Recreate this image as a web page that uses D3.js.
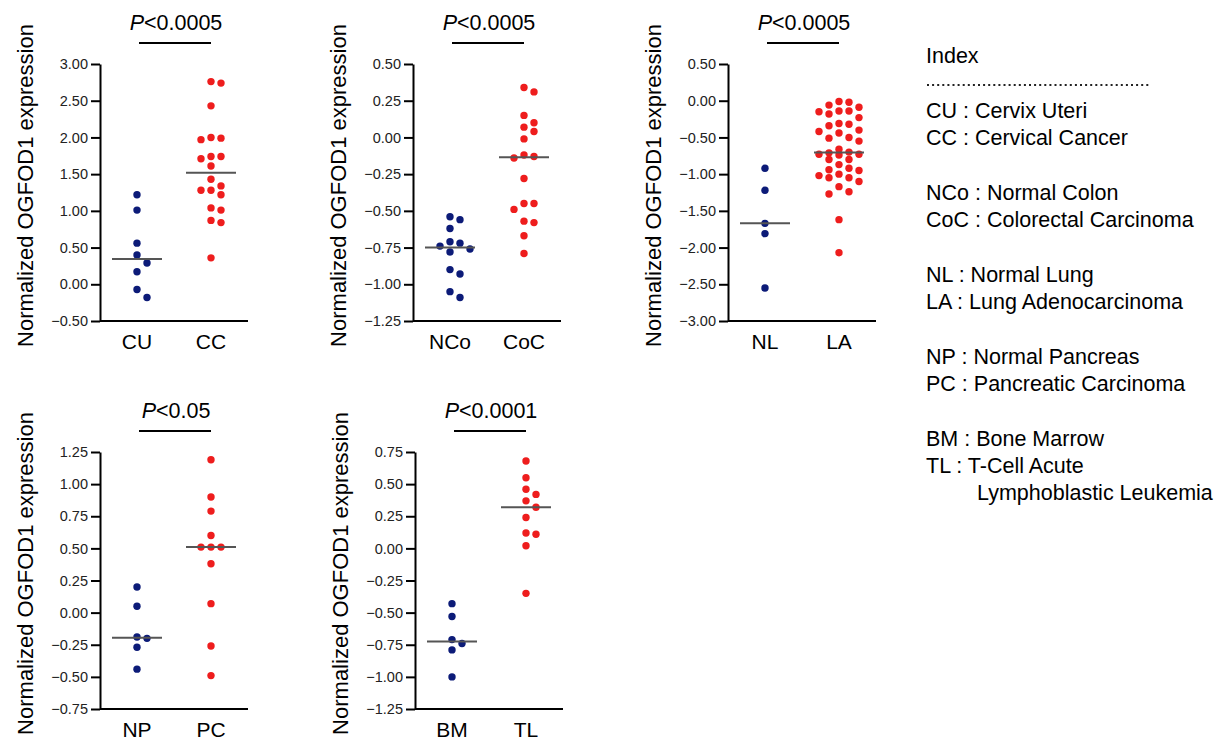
<!DOCTYPE html>
<html>
<head>
<meta charset="utf-8">
<title>OGFOD1 expression</title>
<script src="https://d3js.org/d3.v7.min.js"></script>
<style>
  body { margin: 0; background: #fff; }
  svg { font-family: "Liberation Sans", Arial, sans-serif; }
  .axis path, .axis line { stroke: #000; stroke-width: 2; }
  .axis text { font-size: 14.5px; fill: #222; }
</style>
</head>
<body>
<script>
// values
var cuVals = [1.22, 1.01, 0.56, 0.40, 0.29, 0.17, -0.07, -0.18];
var ccVals = [2.74, 2.76, 2.43, 2.00, 1.97, 1.99, 1.74, 1.71, 1.74, 1.61, 1.43,
              1.34, 1.28, 1.22, 1.28, 1.01, 1.04, 0.87, 0.84, 0.36];
var ncoVals = [-0.56, -0.54, -0.62, -0.71, -0.72, -0.74, -0.78, -0.76, -0.90, -0.93, -1.05, -1.09];
var cocVals = [0.34, 0.31, 0.15, 0.10, 0.07, 0.04, -0.01, -0.13, -0.14, -0.12, -0.28,
               -0.45, -0.45, -0.49, -0.58, -0.57, -0.67, -0.79];
var nlVals = [-0.92, -1.22, -1.67, -1.81, -2.55];
var laVals = [-0.02, -0.01, -0.06, -0.09, -0.14, -0.18, -0.15, -0.14,
              -0.23, -0.31, -0.34, -0.32, -0.40,
              -0.42, -0.50, -0.55, -0.51, -0.44,
              -0.66, -0.70, -0.74, -0.73, -0.73, -0.71,
              -0.80, -0.80, -0.87, -0.94, -0.95, -0.92,
              -1.02, -1.00, -1.05, -1.10, -1.05,
              -1.17, -1.27, -1.24, -1.62, -2.07];
var npVals = [0.20, 0.05, -0.20, -0.19, -0.27, -0.44];
var pcVals = [1.19, 0.90, 0.79, 0.60, 0.51, 0.51, 0.51, 0.38, 0.07, -0.26, -0.49];
var bmVals = [-0.43, -0.53, -0.74, -0.71, -0.79, -1.00];
var tlVals = [0.68, 0.55, 0.46, 0.42, 0.37, 0.32, 0.24, 0.11, 0.12, 0.02, -0.35];

var pLabels = ["<0.0005", "<0.0005", "<0.0005", "<0.05", "<0.0001"];

var legendGroups = [
  ["CU : Cervix Uteri", "CC : Cervical Cancer"],
  ["NCo : Normal Colon", "CoC : Colorectal Carcinoma"],
  ["NL : Normal Lung", "LA : Lung Adenocarcinoma"],
  ["NP : Normal Pancreas", "PC : Pancreatic Carcinoma"],
  ["BM : Bone Marrow", "TL : T-Cell Acute", "      Lymphoblastic Leukemia"]
];

var panels = [
  {cats: ["CU", "CC"], vals: [cuVals, ccVals], dom: [-0.5, 3.0], step: 0.5, p: pLabels[0], x: 100, y: 64},
  {cats: ["NCo", "CoC"], vals: [ncoVals, cocVals], dom: [-1.25, 0.5], step: 0.25, p: pLabels[1], x: 413, y: 64},
  {cats: ["NL", "LA"], vals: [nlVals, laVals], dom: [-3.0, 0.5], step: 0.5, p: pLabels[2], x: 728, y: 64},
  {cats: ["NP", "PC"], vals: [npVals, pcVals], dom: [-0.75, 1.25], step: 0.25, p: pLabels[3], x: 100, y: 452},
  {cats: ["BM", "TL"], vals: [bmVals, tlVals], dom: [-1.25, 0.75], step: 0.25, p: pLabels[4], x: 415, y: 452}
];

var colors = ["#0c1b78", "#ee1d1d"];
var W = 148, H = 257;

var svg = d3.select("body").append("svg").attr("width", 1227).attr("height", 740);

// simple swarm: push a dot sideways until it no longer overlaps (max 2 columns out)
function swarm(vals, y, step) {
  var pts = vals.map(function(v){ return {v: v, py: y(v)}; })
    .sort(function(a, b){ return a.py - b.py; });
  var placed = [];
  var offs = [0, step, -step, 2 * step, -2 * step];
  pts.forEach(function(p){
    var best = 0, bestD = -1;
    for (var i = 0; i < offs.length; i++) {
      var o = offs[i];
      var d = d3.min(placed, function(q){ return Math.hypot(q.dx - o, q.py - p.py); });
      if (d === undefined) d = Infinity;
      if (d >= step * 0.85) { best = o; bestD = d; break; }
      if (d > bestD) { best = o; bestD = d; }
    }
    p.dx = best;
    placed.push(p);
  });
  return pts;
}

panels.forEach(function(pn){
  var g = svg.append("g").attr("transform", "translate(" + pn.x + "," + pn.y + ")");

  var y = d3.scaleLinear().domain(pn.dom).range([H, 0]);
  var x = d3.scalePoint().domain(pn.cats).range([0, W]).padding(0.5);

  var ticks = d3.range(pn.dom[0], pn.dom[1] + pn.step / 2, pn.step);
  var yAxis = d3.axisLeft(y).tickValues(ticks).tickFormat(d3.format(".2f"))
    .tickSize(9).tickSizeOuter(0).tickPadding(3);

  g.append("g").attr("class", "axis").call(yAxis);

  // x axis line + category labels
  g.append("line").attr("x1", 0).attr("x2", W).attr("y1", H).attr("y2", H)
    .attr("stroke", "#000").attr("stroke-width", 2);
  g.selectAll(".cat").data(pn.cats).enter().append("text")
    .attr("class", "cat")
    .attr("x", function(d){ return x(d); })
    .attr("y", H + 21)
    .attr("dy", "0.35em")
    .attr("text-anchor", "middle")
    .style("font-size", "21px")
    .text(function(d){ return d; });

  // y label
  g.append("text")
    .attr("transform", "translate(-75," + (H / 2 - 7) + ") rotate(-90)")
    .attr("text-anchor", "middle")
    .attr("dy", "0.35em")
    .style("font-size", "22px")
    .text("Normalized OGFOD1 expression");

  // dots + median
  pn.cats.forEach(function(c, i){
    var pts = swarm(pn.vals[i], y, 10);
    g.selectAll(".dot" + i).data(pts).enter().append("circle")
      .attr("class", "dot" + i)
      .attr("cx", function(d){ return x(c) + d.dx; })
      .attr("cy", function(d){ return d.py; })
      .attr("r", 3.7)
      .attr("fill", colors[i]);

    var med = d3.median(pn.vals[i]);
    g.append("line")
      .attr("x1", x(c) - 25).attr("x2", x(c) + 25)
      .attr("y1", y(med)).attr("y2", y(med))
      .attr("stroke", "#555").attr("stroke-width", 2);
  });

  // significance bar
  var x0 = x(pn.cats[0]), x1 = x(pn.cats[1]);
  g.append("line").attr("x1", x0 + 2).attr("x2", x1).attr("y1", -21).attr("y2", -21)
    .attr("stroke", "#000").attr("stroke-width", 2);
  var pt = g.append("text")
    .attr("x", (x0 + x1) / 2 + 2).attr("y", -42)
    .attr("dy", "0.35em")
    .attr("text-anchor", "middle")
    .style("font-size", "21.5px");
  pt.append("tspan").style("font-style", "italic").text("P");
  pt.append("tspan").text(pn.p);
});

// index on the right
var lg = svg.append("g").attr("transform", "translate(926,0)").style("font-size", "21.5px");
lg.append("text").attr("x", 0).attr("y", 55).attr("dy", "0.35em").text("Index");
lg.append("line").attr("x1", 1).attr("x2", 223).attr("y1", 85).attr("y2", 85)
  .attr("stroke", "#222").attr("stroke-width", 2.2).attr("stroke-dasharray", "2 3.1");

legendGroups.forEach(function(grp, gi){
  grp.forEach(function(line, li){
    var indent = line.match(/^ */)[0].length;
    lg.append("text")
      .attr("x", indent ? 51 : 0)
      .attr("y", 110 + gi * 82 + li * 27)
      .attr("dy", "0.35em")
      .text(line.trim());
  });
});
</script>
</body>
</html>
